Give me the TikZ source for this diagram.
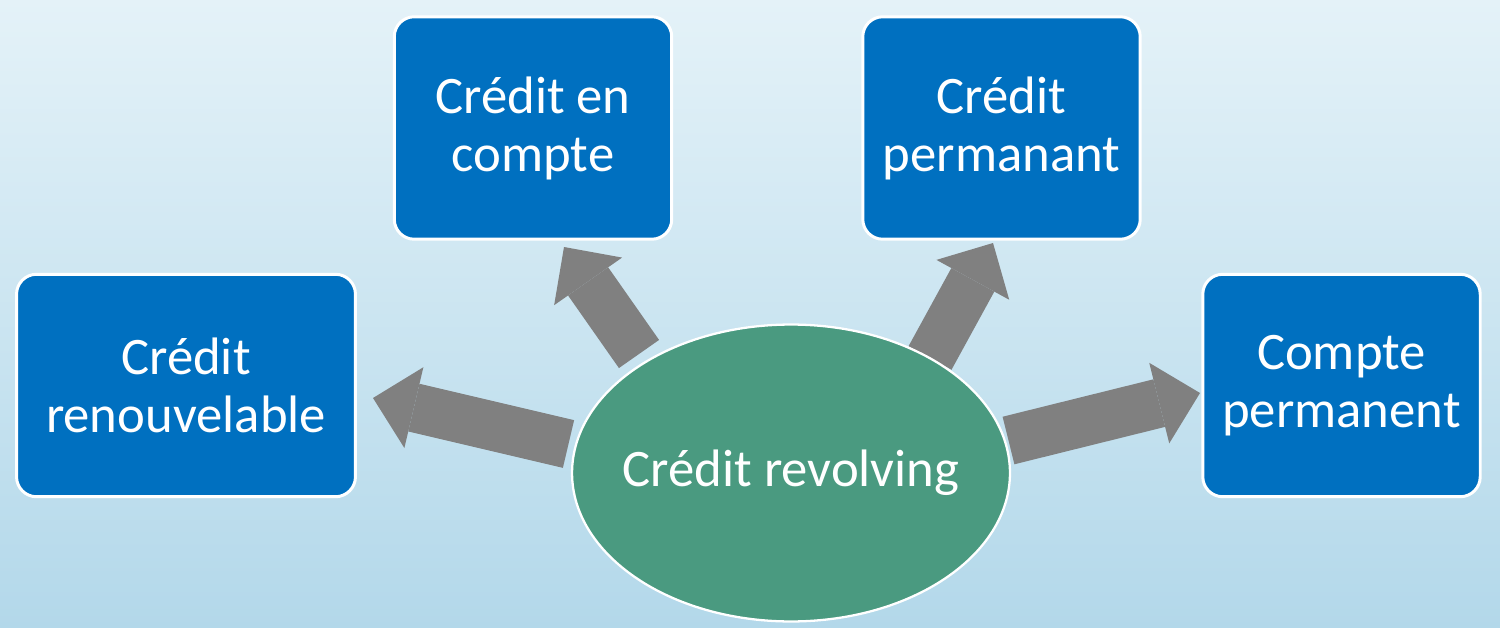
\documentclass[tikz,border=0pt]{standalone}
\usepackage{fontspec}
\setmainfont{Carlito}
\usetikzlibrary{positioning, shapes.geometric, arrows.meta}
\definecolor{boxblue}{HTML}{0070C0}
\definecolor{hubgreen}{HTML}{4A9A80}
\definecolor{spokegray}{HTML}{808080}
\definecolor{bgtop}{HTML}{E4F2F8}
\definecolor{bgbottom}{HTML}{B3D8EA}
\tikzset{
box/.style={draw=white, line width=1.7pt, fill=boxblue, rounded corners=0.4cm, text=white, align=center, minimum height=4.45cm, font=\fontsize{30}{33}\selectfont},
hub/.style={draw=white, line width=1.3pt, fill=hubgreen, ellipse, inner sep=0pt, minimum width=8.76cm, minimum height=5.94cm, text=white, font=\fontsize{30}{33}\selectfont},
spoke/.style={draw=spokegray, line width=0.98cm, -{Triangle[length=0.84cm, width=1.66cm, line width=0pt]}},
}

\begin{document}
\begin{tikzpicture}[x=0.02cm, y=-0.02cm]
    %background
    \useasboundingbox (0,0) rectangle (1500,628);
    \fill[top color=bgtop, bottom color=bgbottom] (0,0) rectangle (1500,628);

    %arrow ends
    \coordinate (lt) at (568.5,444);
    \coordinate (lh) at (373,398);
    \coordinate (tlt) at (639,354);
    \coordinate (tlh) at (564,247);
    \coordinate (trt) at (930,358);
    \coordinate (trh) at (993,243);
    \coordinate (rt) at (1008.5,440.5);
    \coordinate (rh) at (1200,393);

    %arrows
    \draw[spoke] (lt) -- (lh);
    \draw[spoke] (tlt) -- (tlh);
    \draw[spoke] (trt) -- (trh);
    \draw[spoke] (rt) -- (rh);

    %nodes
    \node[hub] (rev) at (791,473) {\makebox[0pt]{Crédit revolving}};
    \node[box, minimum width=6.78cm] (renouv) at (186,385.5) {Crédit\\renouvelable};
    \node[box, minimum width=5.55cm] (encompte) at (533,128) {Crédit en\\compte};
    \node[box, minimum width=5.55cm] (permanant) at (1001.5,128) {Crédit\\permanant};
    \node[box, minimum width=5.55cm] (compte) at (1341.5,385.5) {Compte\\permanent};

\end{tikzpicture}
\end{document}
